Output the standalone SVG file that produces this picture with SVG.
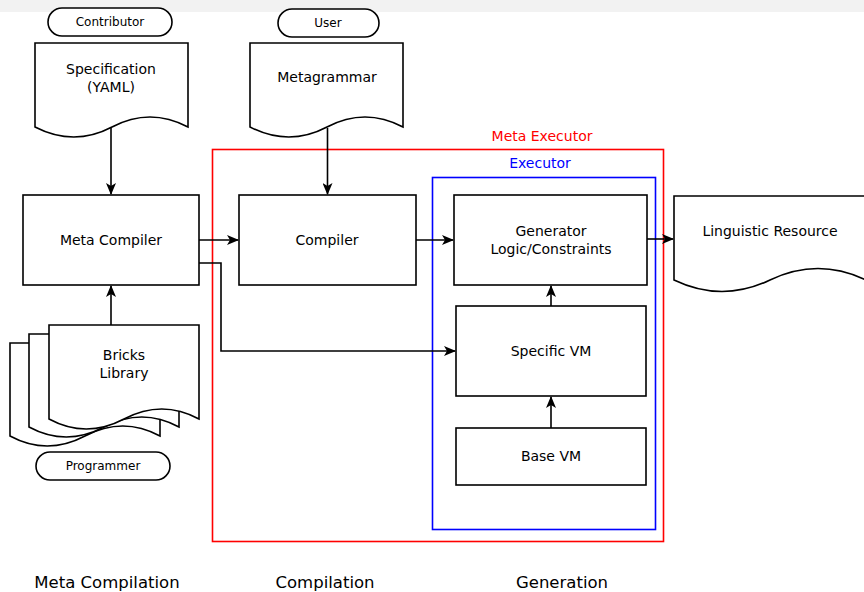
<svg xmlns="http://www.w3.org/2000/svg" width="864" height="592" viewBox="0 0 864 592">
  <style>
    .box { fill: #fff; stroke: #000; stroke-width: 1.6; }
    .doc { fill: #fff; stroke: #000; stroke-width: 1.6; stroke-linejoin: miter; }
    .pill { fill: #fff; stroke: #000; stroke-width: 1.6; }
    .t { font-family: "DejaVu Sans", "Liberation Sans", sans-serif; font-size: 14px; fill: #000; text-anchor: middle; }
    .ts { font-family: "DejaVu Sans", "Liberation Sans", sans-serif; font-size: 12px; fill: #000; text-anchor: middle; }
    .tl { font-family: "DejaVu Sans", "Liberation Sans", sans-serif; font-size: 16.5px; fill: #000; text-anchor: middle; }
    .edge { fill: none; stroke: #000; stroke-width: 1.6; }
  </style>
  <defs>
    <marker id="arrow" markerWidth="12" markerHeight="10" refX="11" refY="5" orient="auto" markerUnits="userSpaceOnUse">
      <path d="M0,0 L12,5 L0,10 L3,5 z" fill="#000"/>
    </marker>
  </defs>

  <rect x="0" y="0" width="864" height="592" fill="#fff"/>
  <rect x="0" y="0" width="864" height="12" fill="#f2f2f2"/>

  <!-- containers -->
  <g id="meta-executor">
    <rect x="212.5" y="149.5" width="451" height="392" fill="none" stroke="#ff0000" stroke-width="1.6"/>
    <text x="542" y="141" class="t" style="fill:#ff0000">Meta Executor</text>
  </g>
  <g id="executor">
    <rect x="432.5" y="177.5" width="223" height="352" fill="none" stroke="#0000ff" stroke-width="1.6"/>
    <text x="540" y="168" class="t" style="fill:#0000ff">Executor</text>
  </g>

  <!-- actors -->
  <g id="contributor">
    <rect x="48" y="8" width="124" height="28" rx="14" class="pill"/>
    <text x="110" y="26" class="ts">Contributor</text>
  </g>
  <g id="user">
    <rect x="278" y="9" width="101" height="28" rx="14" class="pill"/>
    <text x="328" y="27" class="ts">User</text>
  </g>
  <g id="programmer">
    <rect x="36" y="452" width="134" height="28" rx="14" class="pill"/>
    <text x="103" y="470" class="ts">Programmer</text>
  </g>

  <!-- documents -->
  <g id="specification">
    <path class="doc" d="M35,43 H188 V127 Q150,107 112,127 T35,127 Z"/>
    <text x="111" y="74" class="t">Specification</text>
    <text x="111" y="92" class="t">(YAML)</text>
  </g>
  <g id="metagrammar">
    <path class="doc" d="M250,43 H403 V127 Q365,107 327,127 T250,127 Z"/>
    <text x="327" y="82" class="t">Metagrammar</text>
  </g>
  <g id="bricks-library">
    <path class="doc" d="M10,343 H160 V436 Q123,416 85,436 T10,436 Z"/>
    <path class="doc" d="M29,334 H179 V427 Q142,407 104,427 T29,427 Z"/>
    <path class="doc" d="M49,325 H199 V419 Q162,399 124,419 T49,419 Z"/>
    <text x="124" y="360" class="t">Bricks</text>
    <text x="124" y="378" class="t">Library</text>
  </g>
  <g id="linguistic-resource">
    <path class="doc" d="M674,196 H866 V280 Q818,257 770,280 T674,280 Z"/>
    <text x="770" y="236" class="t">Linguistic Resource</text>
  </g>

  <!-- processes -->
  <g id="meta-compiler">
    <rect x="23" y="195" width="176" height="90" class="box"/>
    <text x="111" y="245" class="t">Meta Compiler</text>
  </g>
  <g id="compiler">
    <rect x="239" y="195" width="177" height="90" class="box"/>
    <text x="327" y="245" class="t">Compiler</text>
  </g>
  <g id="generator">
    <rect x="454" y="195" width="193" height="90" class="box"/>
    <text x="551" y="236" class="t">Generator</text>
    <text x="551" y="254" class="t">Logic/Constraints</text>
  </g>
  <g id="specific-vm">
    <rect x="456" y="306" width="190" height="90" class="box"/>
    <text x="551" y="356" class="t">Specific VM</text>
  </g>
  <g id="base-vm">
    <rect x="456" y="428" width="190" height="57" class="box"/>
    <text x="551" y="461" class="t">Base VM</text>
  </g>

  <!-- connectors -->
  <g id="connectors">
    <path class="edge" d="M111,128 V194" marker-end="url(#arrow)"/>
    <path class="edge" d="M327.5,128 V194" marker-end="url(#arrow)"/>
    <path class="edge" d="M111,325 V286" marker-end="url(#arrow)"/>
    <path class="edge" d="M199,240 H238" marker-end="url(#arrow)"/>
    <path class="edge" d="M416,240 H453" marker-end="url(#arrow)"/>
    <path class="edge" d="M647,239 H673" marker-end="url(#arrow)"/>
    <path class="edge" d="M199,263 H221 V351 H455" marker-end="url(#arrow)"/>
    <path class="edge" d="M551,306 V286" marker-end="url(#arrow)"/>
    <path class="edge" d="M551,428 V397" marker-end="url(#arrow)"/>
  </g>

  <!-- phase labels -->
  <g id="phases">
    <text x="107" y="588" class="tl">Meta Compilation</text>
    <text x="325" y="588" class="tl">Compilation</text>
    <text x="562" y="588" class="tl">Generation</text>
  </g>
</svg>
